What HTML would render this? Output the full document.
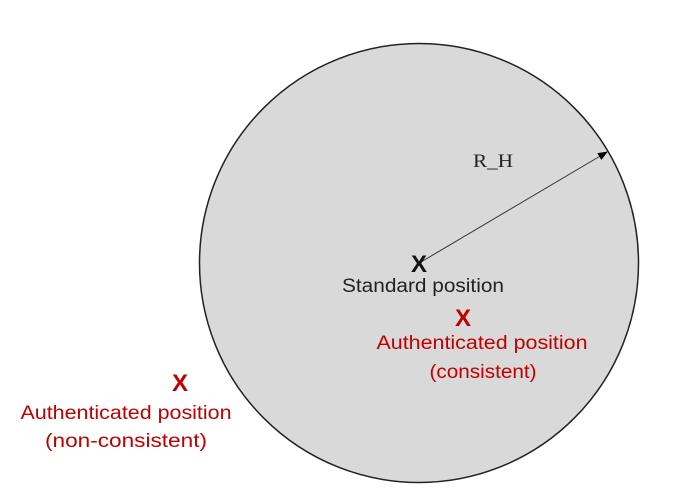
<!DOCTYPE html>
<html><head><style>body{margin:0;background:#fff}svg{display:block}</style></head><body>
<svg width="673" height="502" viewBox="0 0 673 502" xmlns="http://www.w3.org/2000/svg" font-family="Liberation Sans, sans-serif">
<defs><marker id="a" markerWidth="10" markerHeight="8" refX="9" refY="4" orient="auto" markerUnits="userSpaceOnUse"><path d="M0,0 L10,4 L0,8 z" fill="#000"/></marker></defs>
<circle cx="419" cy="263" r="219.5" fill="#d9d9d9" stroke="#222" stroke-width="1.5"/>
<line x1="421" y1="262" x2="607" y2="152" stroke="#333" stroke-width="1" marker-end="url(#a)"/>
<text x="473" y="167" font-family="Liberation Serif, serif" font-size="19" fill="#222" textLength="40" lengthAdjust="spacingAndGlyphs">R_H</text>
<text x="419" y="272" text-anchor="middle" font-size="24" font-weight="bold" fill="#111">X</text>
<text x="423" y="292" text-anchor="middle" font-size="19" fill="#222" textLength="162" lengthAdjust="spacingAndGlyphs">Standard position</text>
<text x="463" y="326" text-anchor="middle" font-size="24" font-weight="bold" fill="#c00000">X</text>
<text x="482" y="349" text-anchor="middle" font-size="19" fill="#c00000" textLength="211" lengthAdjust="spacingAndGlyphs">Authenticated position</text>
<text x="483" y="378" text-anchor="middle" font-size="19" fill="#c00000" textLength="107" lengthAdjust="spacingAndGlyphs">(consistent)</text>
<text x="180" y="391" text-anchor="middle" font-size="24" font-weight="bold" fill="#c00000">X</text>
<text x="126" y="419" text-anchor="middle" font-size="19" fill="#c00000" textLength="211" lengthAdjust="spacingAndGlyphs">Authenticated position</text>
<text x="126" y="447" text-anchor="middle" font-size="19" fill="#c00000" textLength="162" lengthAdjust="spacingAndGlyphs">(non-consistent)</text>
</svg>
</body></html>
